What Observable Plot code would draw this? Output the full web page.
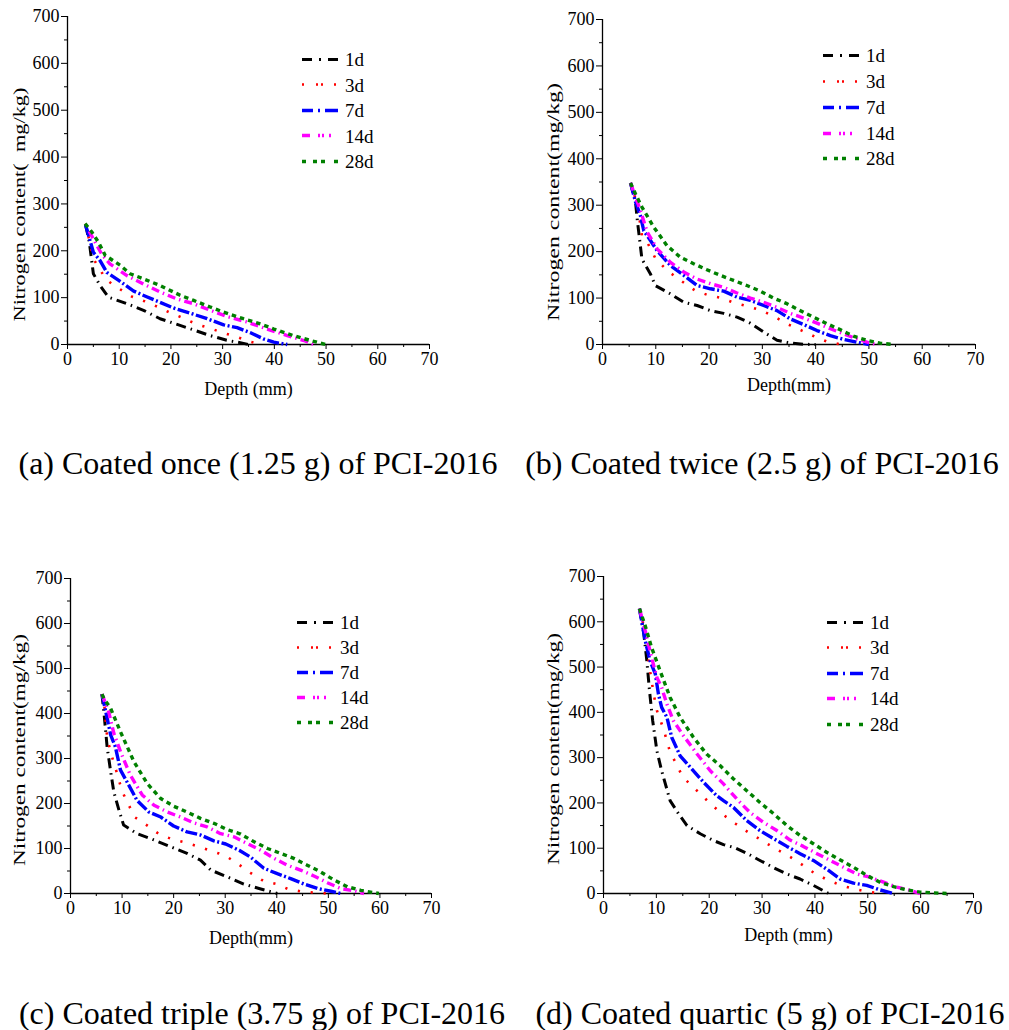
<!DOCTYPE html>
<html><head><meta charset="utf-8">
<script src="https://cdn.jsdelivr.net/npm/d3@7"></script>
<script src="https://cdn.jsdelivr.net/npm/@observablehq/plot@0.6"></script>
<style>
body{margin:0;background:#fff;}
#root{position:relative;width:1009px;height:1030px;font-family:"Liberation Serif","Times New Roman",serif;color:#000;overflow:hidden;}
.panel{position:absolute;}
.cap{position:absolute;font-size:32px;white-space:nowrap;transform:translate(-50%,-50%);line-height:1;}
.legrow{position:absolute;display:flex;align-items:center;font-size:19px;line-height:1;transform:translateY(-50%);}
.legrow svg{display:block;margin-right:7px;}
</style>
</head><body>
<div id="root"></div>
<script>
// ---------- data ----------
const seriesNames = ["1d", "3d", "7d", "14d", "28d"];
const xMajor = [0, 10, 20, 30, 40, 50, 60, 70];
const xMinor = [5, 15, 25, 35, 45, 55, 65];
const yMajor = [0, 100, 200, 300, 400, 500, 600, 700];
const yMinor = [50, 150, 250, 350, 450, 550, 650];

// (a) coated once
const a1d = [[3.5,255],[4.2,220],[5,151],[6.3,126],[7.9,101],[11.5,87],[14.7,73],[17.9,55],[21.2,43],[24.4,31],[27.6,19],[30.8,9],[33.4,4],[35,0]];
const a3d = [[3.5,258],[5,183],[7.5,138],[10,119],[12.5,102],[15,92],[17.5,80],[20,67],[22.5,56],[25,43],[27.5,35],[30,25],[32.5,17],[35,7],[37.5,0]];
const a7d = [[3.5,255],[5,197],[6.3,179],[7.6,154],[9.9,137],[12.8,114],[15.3,102],[17.9,90],[20.5,78],[23.7,67],[27,55],[30.2,42],[32.8,36],[35.4,25],[37.9,12],[39.9,5],[42.5,0]];
const a14d = [[4.2,242],[5,225],[6.6,193],[8.2,172],[11.5,147],[14.7,129],[17.9,112],[21.2,97],[24.4,87],[27.6,73],[30.8,60],[34.7,48],[38.6,33],[42.5,19],[45.7,8.5],[47.6,0]];
const a28d = [[3.4,258],[4.7,240],[6,218],[7.3,190],[10.2,169],[12.1,151],[14.7,140],[17.9,126],[21.8,105],[24.4,94],[27.6,80],[30.2,69],[34,55],[37.3,44],[39.9,33],[43.7,19],[47,8.5],[49.9,0]];

// (b) coated twice
const b1d = [[5.25,348],[6.2,307],[6.5,271],[7.4,184],[9,152],[9.9,127],[12.75,109],[15.25,91],[17.75,84],[20.25,73],[22.75,67],[25.25,59],[27.75,46],[30.25,27],[32.75,9],[35.25,3],[37.75,0.5],[40,0]];
const b3d = [[5.25,348],[6.5,303],[7.4,235],[8.4,220],[10,184],[12.4,157],[14.9,136],[17.4,116],[19.9,106],[22.4,100],[24.9,89],[27.4,82],[29.9,73],[32.4,59],[34.9,43],[37.4,30],[40,16],[42.4,5],[44.9,0]];
const b7d = [[5.25,348],[6.2,307],[7.1,278],[7.75,245],[9,224],[10.25,202],[12.75,170],[15.25,149],[17.75,127],[20.25,120],[22.75,115],[25.25,102],[27.75,95],[30.25,84],[32.75,73],[35.25,55],[37.75,43],[40.25,30],[42.75,19],[45.25,11],[47.75,5],[50,0]];
const b14d = [[5.25,348],[7.1,289],[8.4,242],[10.25,206],[12.75,177],[15.25,156],[17.75,141],[20.25,131],[22.75,123],[25.25,111],[27.75,100],[30.25,91],[32.75,80],[35.25,67],[37.75,57],[40.25,46],[42.75,34],[45.25,23],[47.75,12],[50.25,3],[51.8,0]];
const b28d = [[5.25,348],[6.2,324],[7.4,296],[9.6,253],[12.1,213],[14.6,188],[17.1,174],[19.6,161],[22.1,149],[24.6,138],[27.1,127],[29.6,115],[32.1,100],[34.6,88],[37.1,73],[39.6,59],[42.1,45],[44.6,32],[47.1,18],[49.6,9],[52.1,3],[54.6,0]];

// (c) coated triple
const c1d = [[6.1,443],[6.5,400],[7.1,326],[7.8,270],[8.4,226],[9.4,185],[10.3,152],[12.9,133],[16.2,119],[19.4,104],[22.6,89],[25.2,74],[27.2,52],[30.4,37],[33.6,21],[36.9,10],[40.1,0]];
const c3d = [[6.1,443],[6.5,426],[7.1,348],[7.8,313],[9.1,264],[10,227],[11,204],[12.4,170],[14.9,151],[17.3,131],[19.9,120],[22.4,113],[24.9,104],[27.4,94],[29.9,85],[32.3,67],[34.9,46],[37.4,28],[39.9,21],[42.4,9],[45,4],[47.4,2],[49.8,0]];
const c7d = [[6.1,443],[6.8,406],[7.8,352],[8.7,326],[9.7,274],[11.3,241],[12.9,207],[15.2,181],[17.5,170],[20,150],[22.6,137],[25.2,130],[27.8,117],[30.1,110],[32.7,96],[34.9,81],[37.5,56],[40.1,44],[42.7,33],[45.3,21],[47.9,11],[50.5,5],[52.4,0]];
const c14d = [[6.1,443],[7.4,404],[8.4,356],[9.7,315],[11.6,263],[13.9,219],[16.2,196],[18.8,181],[21.3,170],[23.9,157],[26.5,148],[29.1,133],[31.7,126],[34.3,111],[36.9,96],[39.5,78],[42,63],[44.6,52],[47.2,39],[49.8,24],[52.4,11],[55,6],[56.9,0]];
const c28d = [[6.1,443],[6.5,433],[7.8,411],[9.7,359],[12.3,293],[14.9,244],[17.5,211],[20,194],[22.6,181],[25.2,167],[27.8,156],[30.4,142],[33,132],[35.6,115],[38.2,100],[40.8,89],[43.3,78],[45.9,63],[48.5,48],[51.1,30],[53.7,15],[56.3,7],[59.8,0]];

// (d) coated quartic
const d1d = [[6.8,629],[7.6,576],[8.2,514],[8.7,448],[9.3,382],[10.1,315],[11,271],[12.6,205],[14.2,176],[15.8,150],[18.3,132],[20.8,117],[22.7,108],[24.9,101],[27.1,89],[29.6,73],[32.2,57],[34.7,43],[37.2,32],[39.7,18],[42.6,0]];
const d3d = [[6.8,629],[7.6,591],[8.2,554],[8.5,517],[9,477],[9.5,440],[10.1,404],[10.8,382],[11.7,349],[12.6,312],[13.6,290],[15,257],[17.5,229],[20,201],[22.4,176],[25,154],[27.4,135],[30,117],[32.5,99],[34.9,84],[37.4,65],[39.9,45],[42.4,30],[44.9,18],[47.4,10],[49.9,4],[52.5,0]];
const d7d = [[6.8,629],[7.9,558],[8.8,514],[9.8,485],[10.4,440],[11,411],[12,389],[12.9,345],[14.5,304],[16.4,279],[18.9,246],[21.4,216],[22.7,205],[24.6,190],[27.1,161],[29.6,139],[32.2,121],[34.7,104],[37.2,88],[39.7,73],[42.2,54],[44.8,32],[47.3,23],[49.8,18],[52.3,8],[54.9,0]];
const d14d = [[6.8,629],[7.9,580],[9.1,521],[10.1,477],[11,455],[12,418],[13.2,382],[15.1,349],[17.7,308],[20.2,271],[22.7,242],[25.2,209],[27.7,179],[30.3,157],[32.8,139],[35.3,118],[37.8,104],[40.4,88],[42.9,73],[45.4,58],[47.9,43],[50.4,36],[53,25],[55.5,14],[58,7],[59.9,0]];
const d28d = [[6.8,629],[7.9,591],[9.1,543],[10.7,492],[12.6,433],[14.5,389],[17,345],[19.5,308],[22.1,282],[24.6,253],[27.1,227],[29.6,201],[32.2,176],[34.7,150],[37.2,128],[39.7,110],[42.2,91],[44.8,74],[47.3,58],[49.8,40],[52.3,25],[54.9,15],[57.4,8],[59.9,3],[64.9,0]];

const captions = ["(a) Coated once (1.25 g) of PCI-2016", "(b) Coated twice (2.5 g) of PCI-2016", "(c) Coated triple (3.75 g) of PCI-2016", "(d) Coated quartic (5 g) of PCI-2016"];
const xLabels = ["Depth (mm)", "Depth(mm)", "Depth(mm)", "Depth (mm)"];
const yLabels = ["Nitrogen content(\u00a0 mg/kg)", "Nitrogen content(mg/kg)", "Nitrogen content(mg/kg)", "Nitrogen content(mg/kg)"];

// ---------- styles ----------
const colors = ["#000000", "#ff0000", "#0000ff", "#ff00ff", "#008000"];
const widths = [3, 2.6, 3.4, 3.4, 3.4];
const dashes = ["10,5,1.5,5", "2.2,10.7", "12,2.5,2,2.5", "8,4,1.5,4", "4.5,4"];
const legDashes = ["10,7,2,7,12", "2,12,2,3,2,11,2", "11,5,2,5,13", "8,8,2,2,2,5,2,7,2", "4,7,4,4,4,9,4"];

const panels = [
  {data:[a1d,a3d,a7d,a14d,a28d], left:0, top:0, h:400, ml:67, mr:71, mt:16, mb:56, xOff:50, yOff:55, yLen:234, yShift:-24, leg:{x:302, y:[59,84.5,110,135.5,161]}, cap:[258,463]},
  {data:[b1d,b3d,b7d,b14d,b28d], left:505, top:0, h:400, ml:97, mr:30, mt:19, mb:56, xOff:46, yOff:56, yLen:238, yShift:-20, leg:{x:823, y:[55,81,107,133,158]}, cap:[762,463]},
  {data:[c1d,c3d,c7d,c14d,c28d], left:0, top:550, h:400, ml:70, mr:69, mt:28, mb:57, xOff:50, yOff:58, yLen:232, yShift:-14, leg:{x:297, y:[622,647,672,697,722]}, cap:[262,1013]},
  {data:[d1d,d3d,d7d,d14d,d28d], left:505, top:550, h:400, ml:98, mr:32, mt:26, mb:57, xOff:47, yOff:57, yLen:232, yShift:-14, leg:{x:827, y:[622,647,673,698,724]}, cap:[770,1013]}
];

const root = document.getElementById("root");
panels.forEach((p, k) => {
  const marks = [
    Plot.ruleY([0], {stroke: "black", strokeWidth: 1.3}),
    Plot.ruleX([0], {stroke: "black", strokeWidth: 1.3}),
    Plot.axisX(xMajor, {tickSize: 5, tickPadding: 3, label: xLabels[k], labelAnchor: "center", labelArrow: "none", labelOffset: p.xOff}),
    Plot.axisX(xMinor, {tickSize: 3, tickFormat: () => "", label: null}),
    Plot.axisY(yMajor, {tickSize: 6, tickPadding: 2, label: yLabels[k], labelAnchor: "center", labelArrow: "none", labelOffset: p.yOff}),
    Plot.axisY(yMinor, {tickSize: 3, tickFormat: () => "", label: null}),
    ...seriesNames.map((s, i) => Plot.line(p.data[i], {x: d => d[0], y: d => d[1], stroke: colors[i], strokeWidth: widths[i], strokeDasharray: dashes[i], strokeLinejoin: "round", strokeLinecap: "butt"}))
  ];
  const chart = Plot.plot({
    width: 500, height: p.h,
    marginLeft: p.ml, marginRight: p.mr, marginTop: p.mt, marginBottom: p.mb,
    x: {domain: [0, 70]},
    y: {domain: [0, 700]},
    style: {fontFamily: "'Liberation Serif', 'Times New Roman', serif", fontSize: "18px", color: "black", background: "transparent", overflow: "visible"},
    marks
  });
  const ylab = d3.select(chart).select('g[aria-label="y-axis label"] text');
  if (!ylab.empty()) ylab.attr("textLength", p.yLen).attr("lengthAdjust", "spacingAndGlyphs").attr("dx", p.yShift).style("font-size", "17px");
  const wrap = document.createElement("div");
  wrap.className = "panel";
  wrap.style.left = p.left + "px";
  wrap.style.top = p.top + "px";
  wrap.appendChild(chart);
  root.appendChild(wrap);

  // legend
  seriesNames.forEach((s, i) => {
    const row = document.createElement("div");
    row.className = "legrow";
    row.style.left = p.leg.x + "px";
    row.style.top = p.leg.y[i] + "px";
    row.innerHTML = `<svg width="36" height="8"><line x1="0" y1="4" x2="36" y2="4" stroke="${colors[i]}" stroke-width="${widths[i]}" stroke-dasharray="${legDashes[i]}"/></svg><span>${s}</span>`;
    root.appendChild(row);
  });

  const cap = document.createElement("div");
  cap.className = "cap";
  cap.style.left = p.cap[0] + "px";
  cap.style.top = p.cap[1] + "px";
  cap.textContent = captions[k];
  root.appendChild(cap);
});
</script>
</body></html>
